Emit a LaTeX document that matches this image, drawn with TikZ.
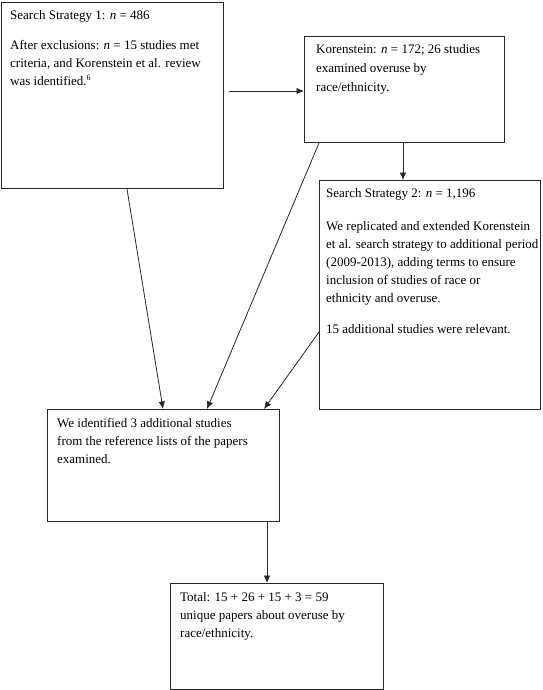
\documentclass[tikz,border=0pt]{standalone}
\usepackage{fontspec}
\setmainfont{Liberation Serif}
\usetikzlibrary{arrows.meta,calc}
\begin{document}
\begin{tikzpicture}[x=1pt,y=-1pt,
  boxshape/.style={draw=black!85,line width=1pt,inner sep=0pt},
  boxtext/.style={anchor=north west,inner sep=0pt,align=left,font=\fontsize{13}{18}\selectfont},
  conn/.style={draw=black!85,line width=0.8pt,-{Latex[length=7.5pt,width=6.5pt]}}]
\useasboundingbox (0,0) rectangle (542,690);
% boxes
\node[boxshape,minimum width=222pt,minimum height=186pt,anchor=north west] (b1) at (1,2) {};
\node[boxshape,minimum width=200pt,minimum height=106pt,anchor=north west] (b2) at (304,36) {};
\node[boxshape,minimum width=221pt,minimum height=229pt,anchor=north west] (b3) at (319,180) {};
\node[boxshape,minimum width=232pt,minimum height=112pt,anchor=north west] (b4) at (47,409) {};
\node[boxshape,minimum width=213pt,minimum height=106pt,anchor=north west] (b5) at (170,583) {};
% texts
\node[boxtext] (t1a) at ($(b1.north west)+(9,8)$) {Search Strategy 1: \textit{n} = 486};
\node[boxtext] (t1b) at ($(b1.north west)+(9,38)$) {After exclusions: \textit{n} = 15 studies met\\criteria, and Korenstein et al. review\\was identified.\textsuperscript{\fontsize{8}{8}\selectfont 6}};
\node[boxtext,font=\fontsize{13}{19}\selectfont] (t2) at ($(b2.north west)+(12,8)$) {Korenstein: \textit{n} = 172; 26 studies\\examined overuse by\\race/ethnicity.};
\node[boxtext] (t3a) at ($(b3.north west)+(7,8)$) {Search Strategy 2: \textit{n} = 1,196};
\node[boxtext] (t3b) at ($(b3.north west)+(7,41)$) {We replicated and extended Korenstein\\et al. search strategy to additional period\\(2009-2013), adding terms to ensure\\inclusion of studies of race or\\ethnicity and overuse.};
\node[boxtext] (t3c) at ($(b3.north west)+(7,144)$) {15 additional studies were relevant.};
\node[boxtext] (t4) at ($(b4.north west)+(10,9)$) {We identified 3 additional studies\\from the reference lists of the papers\\examined.};
\node[boxtext] (t5) at ($(b5.north west)+(10,9)$) {Total: 15 + 26 + 15 + 3 = 59\\unique papers about overuse by\\race/ethnicity.};
% connectors
\coordinate (a1s) at (229,91);
\draw[conn] (a1s) -- (a1s -| b2.west);
\draw[conn] (b2.south -| 403,0) -- (b3.north -| 403,0);
\draw[conn] ($(b1.south west)+(126,0)$) -- ($(b4.north west)+(116,0)$);
\draw[conn] ($(b2.south west)+(15,0)$) -- ($(b4.north west)+(160,0)$);
\draw[conn] ($(b3.north west)+(0,152)$) -- ($(b4.north west)+(217,0)$);
\draw[conn] (b4.south -| 267,0) -- (b5.north -| 267,0);
\end{tikzpicture}
\end{document}
